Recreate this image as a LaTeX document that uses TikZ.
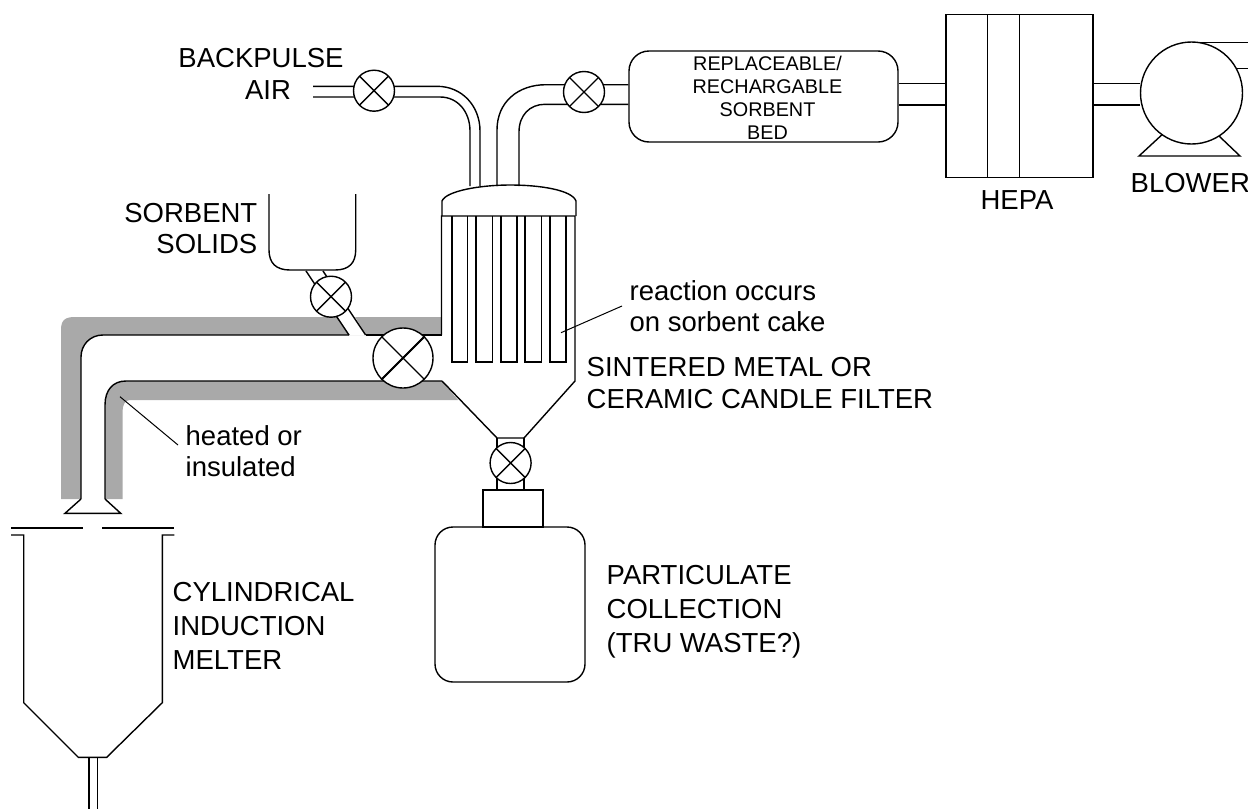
\documentclass[tikz,border=0pt]{standalone}
\usepackage{fontspec}
\usepackage{xcolor}
\setmainfont{Liberation Sans}
\usetikzlibrary{positioning}
\definecolor{insulgray}{RGB}{169,169,169}
\newcommand{\lbl}{\fontsize{27.5}{31}\selectfont}
\newcommand{\lblbig}{\fontsize{27.5}{34}\selectfont}
\newcommand{\lblsmall}{\fontsize{19.8}{23}\selectfont}
\tikzset{
    valve/.style={circle,draw,fill=white,inner sep=0pt,minimum size=41pt,
        path picture={\draw (path picture bounding box.north west) -- (path picture bounding box.south east)
            (path picture bounding box.north east) -- (path picture bounding box.south west);}},
    tag/.style={align=left,anchor=west,inner sep=0pt,font=\lbl}
}

\begin{document}
\begin{tikzpicture}[x=1pt,y=-1pt,line width=1.4pt]
    \useasboundingbox (0,0) rectangle (1248,809);

    % Insulation
    \fill[insulgray] (61,499) -- (61,330) .. controls (61,320) and (65,317) .. (75,317) -- (441.5,317)
        -- (441.5,335) -- (103,335) .. controls (90,335) and (81,345) .. (81,357) -- (81,499) -- cycle;
    \fill[insulgray] (105,499) -- (105,405) .. controls (105,390) and (113,381) .. (126,381) -- (442,381)
        -- (458,400) -- (130,400) .. controls (125,400) and (122.5,405) .. (122.5,412) -- (122.5,499) -- cycle;
    \fill[white] (337,317) -- (349,335) -- (365.6,335) -- (355,317) -- cycle;

    % Transfer pipe
    \draw (81,499) -- (81,357) .. controls (81,345) and (90,335) .. (103,335) -- (349,335);
    \draw (365.6,335) -- (441.5,335);
    \draw (105,499) -- (105,405) .. controls (105,390) and (113,381) .. (126,381) -- (442,381);
    \draw (81,499) -- (65,513.3) -- (120.7,513.3) -- (105,499);

    % Melter
    \draw (11,528) -- (82.7,528);
    \draw (102.3,528) -- (174.3,528);
    \draw (11,535) -- (23.7,535) -- (23.7,702.7) -- (78.3,757.3) -- (106.7,757.3) -- (162.3,702.7) -- (162.3,535) -- (174.3,535);
    \draw (89,757.3) -- (89,809);
    \draw (97.7,757.3) -- (97.7,809);

    % Sorbent hopper
    \draw (269,194) -- (269,250) .. controls (269,263) and (276,270) .. (290,270) -- (335,270) .. controls (349,270) and (355.7,263) .. (355.7,250) -- (355.7,194);
    \draw (306,271) -- (349,335);
    \draw (323,271) -- (365.6,335);
    \node[valve] (vsorb) at (331,296.7) {};

    % Filter vessel
    \draw (441.5,335) -- (441.5,216) -- (575,216) -- (575,381) -- (524,438) -- (497,438) -- (442,381);
    \draw (442,216) -- (442,201) .. controls (446,191) and (480,185) .. (510,185) .. controls (540,185) and (572,190) .. (576,201) -- (576,216);
    \foreach \xa/\xb in {452/467.5,476/492.5,501/517,525/541.5,550/566}
        \draw (\xa,216) -- (\xa,362) -- (\xb,362) -- (\xb,216);
    \node[valve,minimum size=60pt] (vmain) at (403,358) {};
    \draw[line width=2pt] (vmain.south west) -- (vmain.north east);

    % Particulate collection
    \draw (497,438) -- (497,490);
    \draw (524,438) -- (524,490);
    \node[valve] (vdrop) at (510.6,463) {};
    \node[draw,minimum width=60pt,minimum height=37pt,inner sep=0pt] (neck) at (513,508.5) {};
    \node[draw,rounded corners=18pt,minimum width=150pt,minimum height=155pt,inner sep=0pt] (drum) at (510,604.5) {};

    % Top piping
    \coordinate (bpa) at (313,86.3);
    \coordinate (bpb) at (313,97);
    \draw (bpa) -- (437,86.3) .. controls (462,86.3) and (480,106) .. (480,131) -- (480,186);
    \draw (bpb) -- (440,97) .. controls (458,97) and (470,112) .. (470,131) -- (470,186);
    \node[valve] (vback) at (374,90.7) {};
    \node[draw,rounded corners=20pt,minimum width=269pt,minimum height=91pt,inner sep=0pt] (bed) at (763.5,96.5) {};
    \draw (497,186) -- (497,130) .. controls (497,102) and (518,84.7) .. (546,84.7) -- ([yshift=11.8pt]bed.west);
    \draw (519,186) -- (519,132) .. controls (519,115) and (530,104.3) .. (545,104.3) -- ([yshift=-7.8pt]bed.west);
    \node[valve] (vbed) at (584,92) {};

    % HEPA and blower
    \node[draw,minimum width=147pt,minimum height=163.4pt,inner sep=0pt] (hepa) at (1019.5,96) {};
    \draw (987.7,14.3) -- (987.7,177.7);
    \draw (1019.7,14.3) -- (1019.7,177.7);
    \node[draw,circle,minimum size=102pt,inner sep=0pt] (blower) at (1191.5,93) {};
    \draw ([yshift=13pt]bed.east) -- ([yshift=12.5pt]hepa.west);
    \draw ([yshift=-8.5pt]bed.east) -- ([yshift=-9pt]hepa.west);
    \draw ([yshift=12.5pt]hepa.east) -- ([yshift=9.5pt]blower.west);
    \draw ([yshift=-9pt]hepa.east) -- ([yshift=-12pt]blower.west);
    \draw (1200,42.7) -- (1248,42.7);
    \draw (1237,68.3) -- (1248,68.3);
    \draw (1161.7,135) -- (1139,156) -- (1240,156) -- (1219,136);

    % Labels
    \node[inner sep=0pt,font=\lbl] (tback) at (261,58) {BACKPULSE};
    \node[inner sep=0pt,font=\lbl] (tair) at (268,90) {AIR};
    \node[align=center,inner sep=0pt,font=\lblsmall] (tbed) at (767.5,97.5) {REPLACEABLE/\\RECHARGABLE\\SORBENT\\BED};
    \node[inner sep=0pt,font=\lbl] (thepa) at (1017,200) {HEPA};
    \node[anchor=west,inner sep=0pt,font=\lbl] (tblower) at (1130,183) {BLOWER};
    \node[align=right,anchor=east,inner sep=0pt,font=\lbl] (tsorb) at (258,229) {SORBENT\\SOLIDS};
    \node[tag] (treact) at (629,306) {reaction occurs\\on sorbent cake};
    \node[tag] (tfilter) at (586,383) {SINTERED METAL OR\\[1pt]CERAMIC CANDLE FILTER};
    \node[tag] (theat) at (185,451) {heated or\\insulated};
    \node[tag,font=\lblbig] (tmelt) at (172,626) {CYLINDRICAL\\INDUCTION\\MELTER};
    \node[tag,font=\lblbig] (tpart) at (606,612) {PARTICULATE\\COLLECTION\\(TRU WASTE?)};

    % Leaders
    \coordinate (lreact) at (561,332.7);
    \coordinate (lheat) at (120,396.7);
    \draw[line width=1pt] (622,306) -- (lreact);
    \draw[line width=1pt] (178,445) -- (lheat);
\end{tikzpicture}
\end{document}
